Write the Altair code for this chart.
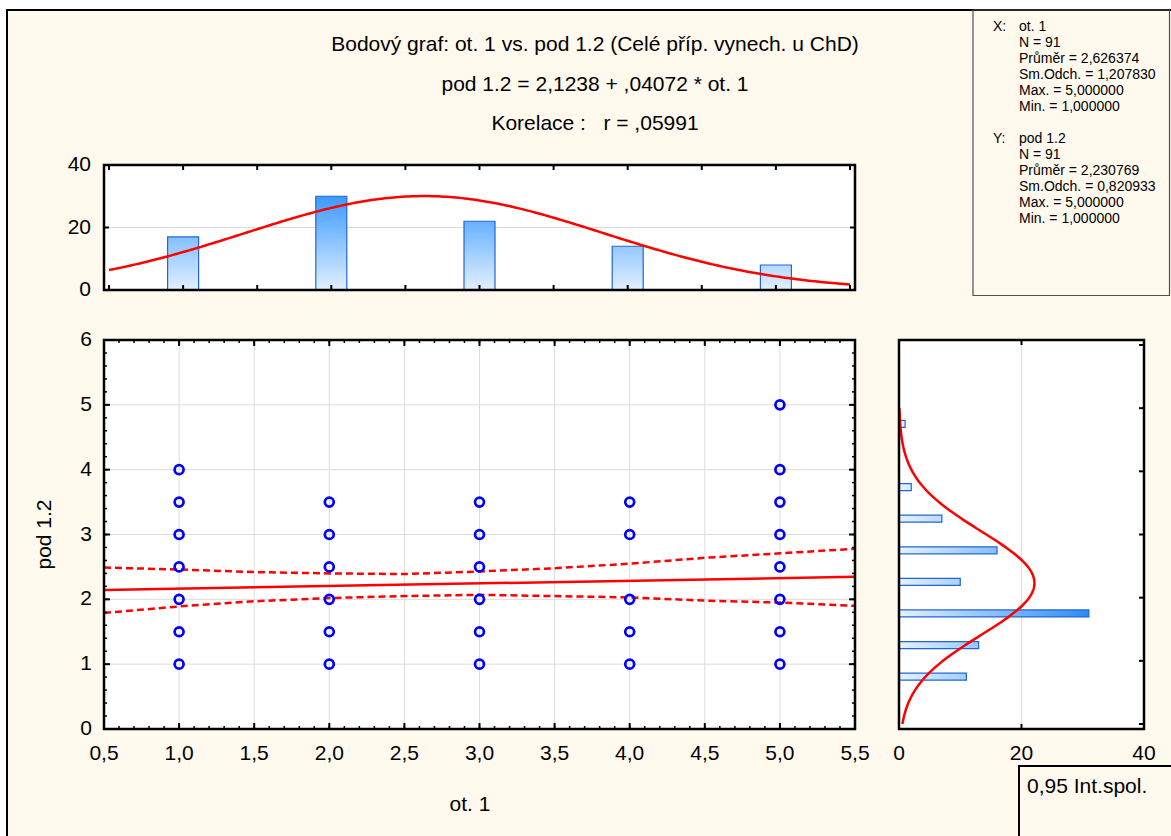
import altair as alt
import pandas as pd

# ------------------------------------------------------------------ data
title_lines = [
    "Bodový graf: ot. 1 vs. pod 1.2 (Celé příp. vynech. u ChD)",
    "pod 1.2 = 2,1238 + ,04072 * ot. 1",
    "Korelace :\u00a0\u00a0 r = ,05991",
]
x_name = "ot. 1"
y_name = "pod 1.2"
ci_label = "0,95 Int.spol."

pts_x = [1, 1, 1, 1, 1, 1, 1,
         2, 2, 2, 2, 2, 2,
         3, 3, 3, 3, 3, 3,
         4, 4, 4, 4, 4,
         5, 5, 5, 5, 5, 5, 5, 5]
pts_y = [1, 1.5, 2, 2.5, 3, 3.5, 4,
         1, 1.5, 2, 2.5, 3, 3.5,
         1, 1.5, 2, 2.5, 3, 3.5,
         1, 1.5, 2, 3, 3.5,
         1, 1.5, 2, 2.5, 3, 3.5, 4, 5]

reg_intercept = 2.1238
reg_slope = 0.04072
reg_x = [0.5, 5.5]

ci_x = [0.5, 1.0, 1.5, 2.0, 2.5, 3.0, 3.5, 4.0, 4.5, 5.0, 5.5]
ci_upper = [2.49, 2.46, 2.42, 2.40, 2.39, 2.43, 2.48, 2.55, 2.64, 2.71, 2.78]
ci_lower = [1.79, 1.89, 1.97, 2.02, 2.05, 2.07, 2.05, 2.03, 1.98, 1.95, 1.90]

histx_val = [1, 2, 3, 4, 5]
histx_cnt = [17, 30, 22, 14, 8]
histx_binw = 1.0
histy_val = [1, 1.5, 2, 2.5, 3, 3.5, 4, 5]
histy_cnt = [11, 13, 31, 10, 16, 7, 2, 1]
histy_binw = 0.5

x_n, x_mean, x_sd, x_max, x_min = 91, 2.626374, 1.207830, 5.0, 1.0
y_n, y_mean, y_sd, y_max, y_min = 91, 2.230769, 0.820933, 5.0, 1.0

x_major = [0.5, 1.0, 1.5, 2.0, 2.5, 3.0, 3.5, 4.0, 4.5, 5.0, 5.5]
x_major_lab = [f"{v:.1f}".replace(".", ",") for v in x_major]
x_minor = [round(0.5 + 0.1 * i, 2) for i in range(51)]
y_major = [0, 1, 2, 3, 4, 5, 6]
y_major_lab = [str(v) for v in y_major]
y_minor = [round(0.2 * i, 2) for i in range(31)]
cnt_major = [0, 20, 40]
cnt_major_lab = [str(v) for v in cnt_major]
cnt_grid = [20]

# ------------------------------------------------------------------ style
FONT = "Liberation Sans, Arial, sans-serif"
BG = "#FFF9EE"
RED = "#FF0000"
BLUE = "#0000FF"
BAR_STROKE = "#2266D6"
GRID = "#DCDCDC"
LIGHT_T, DARK_T = (226, 240, 255), (58, 154, 255)
LIGHT_R, DARK_R = (230, 242, 255), (44, 140, 245)
LAB_SIZE = 21

W_MAIN, H_TOP, H_MAIN, W_SIDE = 751, 125, 389, 245
GAP_ROW, GAP_COL = 50, 44
# page position of the deco panel origin (column 2, row 1)
DX, DY = 104 + W_MAIN + GAP_COL, 165

ONE = pd.DataFrame({"a": [0]})


def hexc(c):
    return "#%02X%02X%02X" % tuple(int(round(v)) for v in c)


def lerp(a, b, t):
    return hexc([a[i] + (b[i] - a[i]) * t for i in range(3)])


def cz(v):
    return f"{v:.6f}".replace(".", ",")


def frame(w, h):
    return alt.Chart(ONE).mark_rect(fillOpacity=0, stroke="black", strokeWidth=2.5).encode(
        x=alt.value(0), x2=alt.value(w), y=alt.value(0), y2=alt.value(h))


def ticks(values, channel, scale, side, length, sw, w, h):
    df = pd.DataFrame({"t": values})
    if channel == "x":
        pos = alt.X("t:Q", scale=scale, axis=None)
        if side == "bottom":
            enc = dict(x=pos, y=alt.value(h), y2=alt.value(h - length))
        else:
            enc = dict(x=pos, y=alt.value(0), y2=alt.value(length))
    else:
        pos = alt.Y("t:Q", scale=scale, axis=None)
        if side == "left":
            enc = dict(y=pos, x=alt.value(0), x2=alt.value(length))
        else:
            enc = dict(y=pos, x=alt.value(w), x2=alt.value(w - length))
    return alt.Chart(df).mark_rule(color="black", strokeWidth=sw).encode(**enc)


def grid(values, channel, scale, w, h):
    df = pd.DataFrame({"t": values})
    if channel == "x":
        enc = dict(x=alt.X("t:Q", scale=scale, axis=None), y=alt.value(0), y2=alt.value(h))
    else:
        enc = dict(y=alt.Y("t:Q", scale=scale, axis=None), x=alt.value(0), x2=alt.value(w))
    return alt.Chart(df).mark_rule(color=GRID, strokeWidth=1).encode(**enc)


def xlabels(values, labels, scale, y_px):
    df = pd.DataFrame({"t": values, "lab": labels})
    return alt.Chart(df).mark_text(
        font=FONT, fontSize=LAB_SIZE, align="center", baseline="middle", color="black"
    ).encode(x=alt.X("t:Q", scale=scale, axis=None), y=alt.value(y_px), text="lab:N")


def ylabels(values, labels, scale, x_px):
    df = pd.DataFrame({"t": values, "lab": labels})
    return alt.Chart(df).mark_text(
        font=FONT, fontSize=LAB_SIZE, align="right", baseline="middle", color="black"
    ).encode(y=alt.Y("t:Q", scale=scale, axis=None), x=alt.value(x_px), text="lab:N")


def free_text(txt, x, y, size, align="center", angle=0):
    return alt.Chart(ONE).mark_text(
        text=txt, align=align, baseline="middle", font=FONT, fontSize=size,
        color="black", angle=angle
    ).encode(x=alt.value(x), y=alt.value(y))


SX = alt.Scale(domain=[0.5, 5.5], nice=False, zero=False)
SY = alt.Scale(domain=[0, 6], nice=False, zero=False)
SCT = alt.Scale(domain=[0, 40], nice=False)
SCR = alt.Scale(domain=[0, 40], nice=False)

# ------------------------------------------------------------------ top histogram
TX = alt.X("x:Q", scale=SX, axis=None)
TY = alt.Y("y:Q", scale=SCT, axis=None)

top_layers = [grid(cnt_grid, "y", SCT, W_MAIN, H_TOP)]
for v, c in zip(histx_val, histx_cnt):
    grad = {"gradient": "linear", "x1": 0, "y1": 1, "x2": 0, "y2": 0,
            "stops": [{"offset": 0, "color": hexc(LIGHT_T)},
                      {"offset": 1, "color": lerp(LIGHT_T, DARK_T, c / max(histx_cnt))}]}
    top_layers.append(
        alt.Chart(pd.DataFrame({"x": [v], "y": [c]})).mark_bar(
            size=31, fill=grad, stroke=BAR_STROKE, strokeWidth=1.2
        ).encode(x=TX, y=TY))

top_curve = alt.Chart(alt.sequence(0.5, 5.5001, 0.02, as_="x")).transform_calculate(
    y=f"{x_n} * {histx_binw} * exp(-pow(datum.x - {x_mean}, 2) / (2 * {x_sd} * {x_sd})) / ({x_sd} * sqrt(2 * PI))"
).mark_line(color=RED, strokeWidth=2.5).encode(x=TX, y=TY)

top = alt.layer(
    *top_layers, top_curve,
    ticks(x_major, "x", SX, "bottom", 5, 2, W_MAIN, H_TOP),
    ticks(x_major, "x", SX, "top", 5, 2, W_MAIN, H_TOP),
    ticks(cnt_major, "y", SCT, "left", 5, 2, W_MAIN, H_TOP),
    ticks(cnt_major, "y", SCT, "right", 5, 2, W_MAIN, H_TOP),
    frame(W_MAIN, H_TOP),
    ylabels(cnt_major, cnt_major_lab, SCT, -13),
).properties(width=W_MAIN, height=H_TOP)

# ------------------------------------------------------------------ deco panel (titles, stats box, frame)
def P(x, y):
    return x - DX, y - DY


def box(x1, y1, x2, y2, **kw):
    a, b = P(x1, y1)
    c, d = P(x2, y2)
    return alt.Chart(ONE).mark_rect(**kw).encode(
        x=alt.value(a), x2=alt.value(c), y=alt.value(b), y2=alt.value(d))


def label(txt, x, y, size, align="left"):
    a, b = P(x, y)
    return free_text(txt, a, b, size, align=align)


x_lines = [f"N = {x_n}", f"Průměr = {cz(x_mean)}", f"Sm.Odch. = {cz(x_sd)}",
           f"Max. = {cz(x_max)}", f"Min. = {cz(x_min)}"]
y_lines = [f"N = {y_n}", f"Průměr = {cz(y_mean)}", f"Sm.Odch. = {cz(y_sd)}",
           f"Max. = {cz(y_max)}", f"Min. = {cz(y_min)}"]

STAT_SIZE = 14
deco_layers = [
    box(0, 0, 1171, 9, fill="white"),
    box(0, 0, 6, 836, fill="white"),
    box(6, 9, 1171, 11, fill="black"),
    box(6, 9, 8, 836, fill="black"),
    box(973, 10, 1169.5, 295.5, fillOpacity=0, stroke="#505050", strokeWidth=1.2),
    box(1018, 765, 1171, 767, fill="black"),
    box(1018, 765, 1020, 836, fill="black"),
    label(ci_label, 1027, 787, 21),
]
for i, t in enumerate(title_lines):
    deco_layers.append(label(t, 595, 45 + 39.5 * i, 21, align="center"))
deco_layers.append(label("X:", 993, 27, STAT_SIZE))
deco_layers.append(label(x_name, 1019, 27, STAT_SIZE))
for i, t in enumerate(x_lines):
    deco_layers.append(label(t, 1019, 43 + 16 * i, STAT_SIZE))
deco_layers.append(label("Y:", 993, 139, STAT_SIZE))
deco_layers.append(label(y_name, 1019, 139, STAT_SIZE))
for i, t in enumerate(y_lines):
    deco_layers.append(label(t, 1019, 155 + 16 * i, STAT_SIZE))

deco = alt.layer(*deco_layers).properties(
    width=W_SIDE, height=H_TOP,
    view=alt.ViewBackground(fillOpacity=0, strokeOpacity=0))

# ------------------------------------------------------------------ scatter
SXn = alt.X("x:Q", scale=SX, axis=None)
SYn = alt.Y("y:Q", scale=SY, axis=None)

ci_df = pd.DataFrame({"x": ci_x, "up": ci_upper, "lo": ci_lower})
reg_df = pd.DataFrame({"x": reg_x})
pts_df = pd.DataFrame({"x": pts_x, "y": pts_y})

ci_up = alt.Chart(ci_df).transform_calculate(y="datum.up").mark_line(
    color=RED, strokeWidth=2.5, strokeDash=[7, 4]).encode(x=SXn, y=SYn)
ci_lo = alt.Chart(ci_df).transform_calculate(y="datum.lo").mark_line(
    color=RED, strokeWidth=2.5, strokeDash=[7, 4]).encode(x=SXn, y=SYn)
reg = alt.Chart(reg_df).transform_calculate(
    y=f"{reg_intercept} + {reg_slope} * datum.x").mark_line(
    color=RED, strokeWidth=2.5).encode(x=SXn, y=SYn)
pts = alt.Chart(pts_df).mark_point(
    shape="circle", filled=False, color=BLUE, size=80, strokeWidth=2.7, opacity=1
).encode(x=SXn, y=SYn)

scatter = alt.layer(
    grid(x_major, "x", SX, W_MAIN, H_MAIN),
    grid(y_major, "y", SY, W_MAIN, H_MAIN),
    ci_up, ci_lo, reg, pts,
    ticks(x_minor, "x", SX, "bottom", 3, 1.5, W_MAIN, H_MAIN),
    ticks(x_major, "x", SX, "bottom", 6, 2, W_MAIN, H_MAIN),
    ticks(x_minor, "x", SX, "top", 3, 1.5, W_MAIN, H_MAIN),
    ticks(x_major, "x", SX, "top", 6, 2, W_MAIN, H_MAIN),
    ticks(y_minor, "y", SY, "left", 3, 1.5, W_MAIN, H_MAIN),
    ticks(y_major, "y", SY, "left", 6, 2, W_MAIN, H_MAIN),
    ticks(y_minor, "y", SY, "right", 3, 1.5, W_MAIN, H_MAIN),
    ticks(y_major, "y", SY, "right", 6, 2, W_MAIN, H_MAIN),
    frame(W_MAIN, H_MAIN),
    xlabels(x_major, x_major_lab, SX, H_MAIN + 25),
    ylabels(y_major, y_major_lab, SY, -12),
    free_text(x_name, 366, H_MAIN + 76, LAB_SIZE),
    free_text(y_name, -59, H_MAIN / 2, LAB_SIZE, angle=270),
).properties(width=W_MAIN, height=H_MAIN)

# ------------------------------------------------------------------ right histogram
RX = alt.X("cnt:Q", scale=SCR, axis=None)
RY = alt.Y("yv:Q", scale=SY, axis=None)

right_layers = [grid(cnt_grid, "x", SCR, W_SIDE, H_MAIN)]
for v, c in zip(histy_val, histy_cnt):
    grad = {"gradient": "linear", "x1": 0, "y1": 0, "x2": 1, "y2": 0,
            "stops": [{"offset": 0, "color": hexc(LIGHT_R)},
                      {"offset": 1, "color": lerp(LIGHT_R, DARK_R, c / max(histy_cnt))}]}
    right_layers.append(
        alt.Chart(pd.DataFrame({"val": [v], "cnt": [c]})).transform_calculate(
            yv=f"datum.val - {histy_binw} / 2"
        ).mark_bar(orient="horizontal", size=7, fill=grad, stroke=BAR_STROKE, strokeWidth=1.2
                   ).encode(x=RX, y=RY))

right_curve = alt.Chart(alt.sequence(0, 5.0001, 0.02, as_="yv")).transform_calculate(
    cnt=f"{y_n} * {histy_binw} * exp(-pow(datum.yv - {y_mean}, 2) / (2 * {y_sd} * {y_sd})) / ({y_sd} * sqrt(2 * PI))"
).mark_line(color=RED, strokeWidth=2.5).encode(x=RX, y=RY, order="yv:Q")

right = alt.layer(
    *right_layers, right_curve,
    ticks(y_major, "y", SY, "right", 5, 2, W_SIDE, H_MAIN),
    ticks(cnt_major, "x", SCR, "top", 5, 2, W_SIDE, H_MAIN),
    ticks(cnt_major, "x", SCR, "bottom", 5, 2, W_SIDE, H_MAIN),
    frame(W_SIDE, H_MAIN),
    xlabels(cnt_major, cnt_major_lab, SCR, H_MAIN + 25),
).properties(width=W_SIDE, height=H_MAIN)

# ------------------------------------------------------------------ compose
chart = alt.concat(
    top, deco, scatter, right,
    columns=2, spacing={"row": GAP_ROW, "column": GAP_COL}, bounds="flush",
).properties(padding=0, background=BG).configure_view(
    fill="white", strokeOpacity=0
)

chart.save("out.html", embed_options={"renderer": "svg", "actions": False})
